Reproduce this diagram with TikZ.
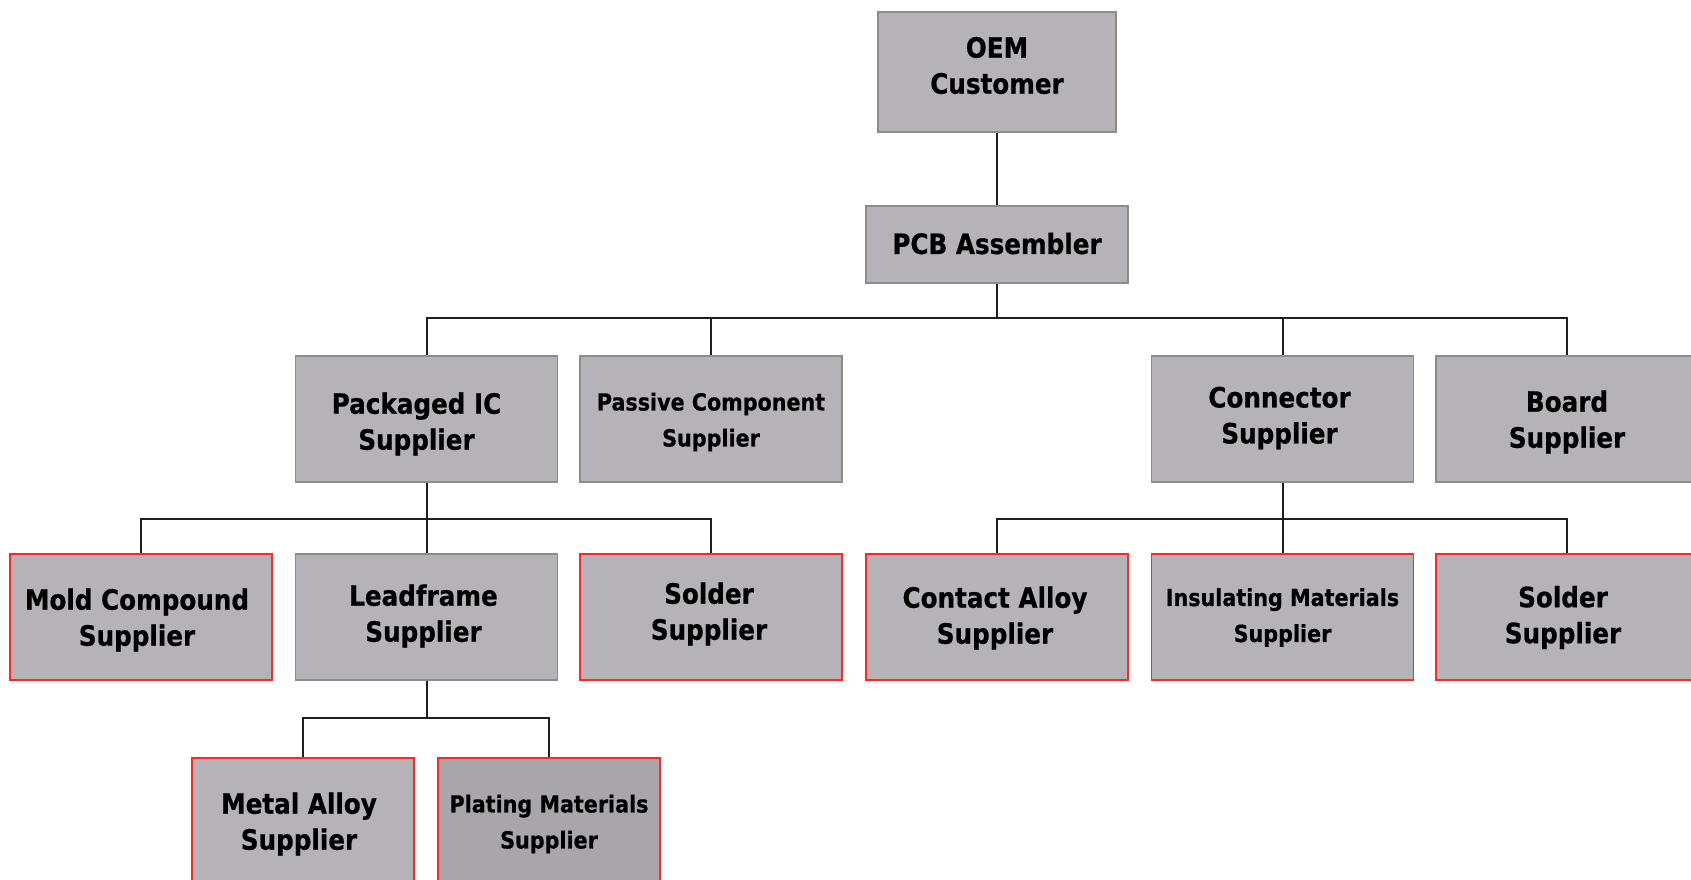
\documentclass[tikz,border=0pt]{standalone}
\usepackage{fontspec}
\setmainfont{DejaVu Sans}[FakeStretch=0.88, BoldFeatures={FakeBold=0.6}]
\definecolor{boxfill}{RGB}{181,179,183}
\definecolor{boxdark}{RGB}{168,166,170}
\definecolor{boxline}{RGB}{140,140,140}
\definecolor{redline}{RGB}{255,40,40}
\definecolor{conn}{RGB}{30,30,30}
\tikzset{
  box/.style={rectangle, fill=boxfill, draw=boxline, line width=1.6pt,
    inner sep=0pt, minimum width=262pt, minimum height=126pt},
  redbox/.style={box, draw=redline},
  txt/.style={align=center, inner sep=0pt, font=\fontsize{28}{36}\selectfont\bfseries},
  small/.style={font=\fontsize{23.5}{36}\selectfont\bfseries},
  link/.style={draw=conn, line width=2pt}
}
\begin{document}
\begin{tikzpicture}[x=1pt,y=-1pt]
\clip (0,0) rectangle (1691,879);
\fill[white] (0,0) rectangle (1691,879);
% boxes
\node[box, minimum width=238pt, minimum height=120pt] (oem) at (997,72) {};
\node[box, minimum width=262pt, minimum height=77pt] (pcb) at (997,244.5) {};
\node[box] (pic) at (426.5,419) {};
\node[box] (pas) at (711,419) {};
\node[box] (con) at (1282.5,419) {};
\node[box] (brd) at (1567,419) {};
\node[redbox] (mold) at (141,617) {};
\node[box] (lead) at (426.5,617) {};
\node[redbox] (sol1) at (711,617) {};
\node[redbox] (cont) at (997,617) {};
\node[redbox] (ins) at (1282.5,617) {};
\node[redbox] (sol2) at (1567,617) {};
\node[redbox, minimum width=222pt] (metal) at (303,821) {};
\node[redbox, fill=boxdark, minimum width=222pt] (plat) at (549,821) {};
% texts
\node[txt] (oemT) at ([shift={(0,-6.5)}]oem.center) {OEM\\Customer};
\node[txt] (pcbT) at ([shift={(0,-1)}]pcb.center) {PCB Assembler};
\node[txt] (picT) at ([shift={(-10,5)}]pic.center) {Packaged IC\\Supplier};
\node[txt, small] (pasT) at ([shift={(0,3)}]pas.center) {Passive Component\\Supplier};
\node[txt] (conT) at ([shift={(-3,-1)}]con.center) {Connector\\Supplier};
\node[txt] (brdT) at ([shift={(0,3)}]brd.center) {Board\\Supplier};
\node[txt] (moldT) at ([shift={(-4,3)}]mold.center) {Mold Compound\\Supplier};
\node[txt] (leadT) at ([shift={(-3,-1)}]lead.center) {Leadframe\\Supplier};
\node[txt] (sol1T) at ([shift={(-2,-3)}]sol1.center) {Solder\\Supplier};
\node[txt] (contT) at ([shift={(-2,1)}]cont.center) {Contact Alloy\\Supplier};
\node[txt, small] (insT) at ([shift={(0,0.5)}]ins.center) {Insulating Materials\\Supplier};
\node[txt] (sol2T) at ([shift={(-4,0.5)}]sol2.center) {Solder\\Supplier};
\node[txt] (metalT) at ([shift={(-4,3)}]metal.center) {Metal Alloy\\Supplier};
\node[txt, small] (platT) at ([shift={(0,3)}]plat.center) {Plating Materials\\Supplier};
% bus levels
\coordinate (b1) at (0,318);
\coordinate (b2) at (0,519);
\coordinate (b4) at (0,718);
% connectors
\draw[link] (oem.south) -- (pcb.north);
\foreach \c in {pic,pas,con,brd}{
  \draw[link] (pcb.south) -- (pcb.south|-b1) -| (\c.north);
}
\foreach \c in {mold,lead,sol1}{
  \draw[link] (pic.south) -- (pic.south|-b2) -| (\c.north);
}
\foreach \c in {cont,ins,sol2}{
  \draw[link] (con.south) -- (con.south|-b2) -| (\c.north);
}
\foreach \c in {metal,plat}{
  \draw[link] (lead.south) -- (lead.south|-b4) -| (\c.north);
}
\end{tikzpicture}
\end{document}
